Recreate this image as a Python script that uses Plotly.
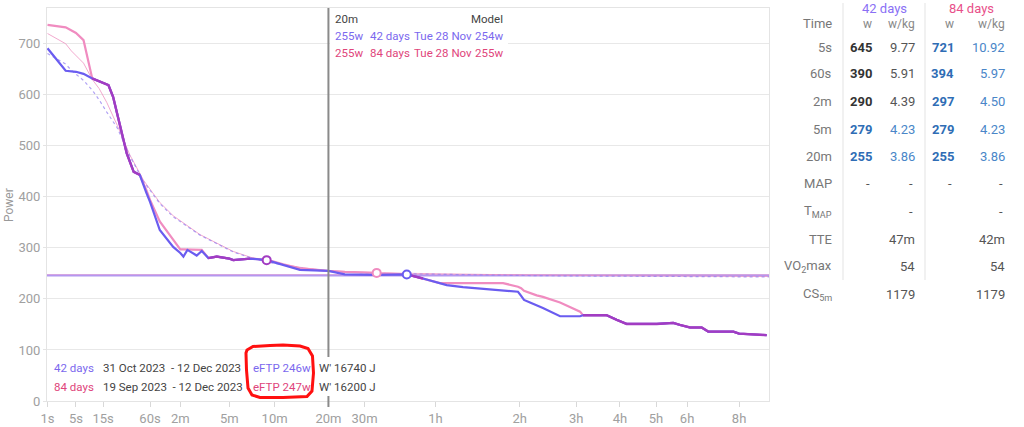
import plotly.graph_objects as go

# ---------------- data ----------------
secs = [1, 3, 5, 7, 10, 13, 18, 21, 32, 39, 46, 55, 60, 76, 103, 120, 128, 139, 167, 184,
        208, 242, 300, 320, 418, 536, 677, 845, 1200, 1450, 2050, 2120, 2760, 3215, 3750, 3980,
        4580, 6340, 7110, 7280, 7440, 7780, 8170, 8550, 9660, 11090, 11310, 11600, 13230, 14110,
        15030, 18080, 19940, 20740, 21970, 23470, 24350, 27930, 28800, 33290]
power_42d = [691, 647, 645, 641, 632, 627, 619, 596, 485, 449, 443, 407, 390, 335, 302, 290, 283, 296, 285, 294,
             280, 283, 279, 276, 279, 276, 266, 257, 255, 248, 247, 247, 248, 240, 230, 227,
             223, 217, 214, 206, 198, 193, 188, 182, 166, 166, 168, 168, 168, 159,
             151, 151, 153, 149, 144, 144, 136, 136, 132, 129]
power_84d = [737, 732, 721, 707, 632, 627, 619, 596, 485, 449, 443, 412, 394, 352, 315, 297, 297, 297, 297, 296,
             280, 283, 279, 276, 279, 277, 268, 260, 255, 253, 251, 250, 248, 240, 231, 231,
             231, 231, 224, 221, 216, 211, 207, 204, 193, 175, 168, 168, 168, 159,
             151, 151, 153, 149, 144, 144, 136, 136, 132, 129]

model_secs = [1, 3, 4, 7, 10, 13, 17, 24, 35, 51, 76, 103, 178, 242, 320, 418, 536, 845, 1200, 2120,
              3600, 7200, 10800, 18000, 28800, 33690]
model_42d = [681, 660, 648, 628, 609, 590, 566, 535, 480, 430, 387, 361, 325, 308, 292, 281, 272, 261, 254, 250,
             248, 246, 245, 244, 243, 243]
model_84d = [720, 700, 686, 662, 630, 612, 585, 540, 482, 432, 389, 363, 326, 309, 293, 282, 273, 262, 255, 251,
             249, 247, 246, 245, 244, 244]

eftp_42d = 246
eftp_84d = 247

marker_secs = [536, 2045, 2760]
marker_power = [276, 251, 248]

tick_secs = [1, 5, 15, 60, 120, 300, 600, 1200, 1800, 3600, 7200, 10800, 14400, 18000, 21600, 28800]
tick_text = ["1s", "5s", "15s", "60s", "2m", "5m", "10m", "20m", "30m", "1h", "2h", "3h", "4h", "5h", "6h", "8h"]
y_ticks = [0, 100, 200, 300, 400, 500, 600, 700]

table_rows = ["5s", "60s", "2m", "5m", "20m"]
w_42 = ["645", "390", "290", "279", "255"]
wkg_42 = ["9.77", "5.91", "4.39", "4.23", "3.86"]
w_84 = ["721", "394", "297", "279", "255"]
wkg_84 = ["10.92", "5.97", "4.50", "4.23", "3.86"]
best_42 = [False, False, False, True, True]
best_84 = [True, True, True, True, True]

# ---------------- helpers ----------------
def tx(s):
    return s ** 0.25

L, R, T, B = 47, 769, 8, 401
W, H = R - L, B - T

def px(xp):
    return (xp - L) / W

def py(yp):
    return (B - yp) / H

FONT = "Roboto"
C_BLUE = "#6a5cf0"
C_PINK = "#f08cc0"
C_MIX = "#a23cc2"
C_BLUE_TXT = "#7b68ee"
C_PINK_TXT = "#e0457b"

fig = go.Figure()

# eFTP lines
x_full = [tx(0.9), tx(34000)]
fig.add_trace(go.Scatter(x=x_full, y=[eftp_84d, eftp_84d], mode="lines",
                         line=dict(color="#f5b3d2", width=2), hoverinfo="skip"))
fig.add_trace(go.Scatter(x=x_full, y=[eftp_42d, eftp_42d], mode="lines",
                         line=dict(color="#b497f0", width=2), hoverinfo="skip"))

# model lines
fig.add_trace(go.Scatter(x=[tx(s) for s in model_secs], y=model_84d, mode="lines",
                         line=dict(color="rgba(238,140,190,0.75)", width=1), hoverinfo="skip"))
fig.add_trace(go.Scatter(x=[tx(s) for s in model_secs], y=model_42d, mode="lines",
                         line=dict(color="rgba(150,130,240,0.75)", width=1.2, dash="dot"), hoverinfo="skip"))

# actual curves
xs = [tx(s) for s in secs]
fig.add_trace(go.Scatter(x=xs, y=power_84d, mode="lines",
                         line=dict(color=C_PINK, width=2.2), hoverinfo="skip"))
fig.add_trace(go.Scatter(x=xs, y=power_42d, mode="lines",
                         line=dict(color=C_BLUE, width=2.2), hoverinfo="skip"))

# overlap segments (where both curves coincide)
ox, oy = [], []
for i in range(len(secs) - 1):
    if power_42d[i] == power_84d[i] and power_42d[i + 1] == power_84d[i + 1]:
        if ox and ox[-1] is not None and ox[-1] == xs[i]:
            ox.append(xs[i + 1]); oy.append(power_42d[i + 1])
        else:
            ox += [None, xs[i], xs[i + 1]]; oy += [None, power_42d[i], power_42d[i + 1]]
fig.add_trace(go.Scatter(x=ox, y=oy, mode="lines", connectgaps=False,
                         line=dict(color=C_MIX, width=2.4), hoverinfo="skip"))

# markers
fig.add_trace(go.Scatter(x=[tx(s) for s in marker_secs], y=marker_power, mode="markers",
                         marker=dict(symbol="circle", size=8, color="white",
                                     line=dict(width=2, color=[C_MIX, C_PINK, C_BLUE])),
                         hoverinfo="skip"))

shapes = []
# 20m vertical line
shapes.append(dict(type="line", xref="x", yref="paper", x0=tx(1200), x1=tx(1200), y0=-0.015, y1=1,
                   line=dict(color="#8a8a8a", width=2), layer="above"))
# white boxes behind legends
shapes.append(dict(type="rect", xref="paper", yref="paper", x0=px(330), x1=px(508), y0=py(62), y1=py(10),
                   fillcolor="white", line=dict(width=0), layer="above"))
shapes.append(dict(type="rect", xref="paper", yref="paper", x0=px(48), x1=px(380), y0=py(396), y1=py(357),
                   fillcolor="white", line=dict(width=0), layer="above"))
# red hand-drawn highlight
red_pts = [(247, 350), (253, 346.5), (270, 345.5), (283, 345), (300, 346), (308, 348.5), (312.5, 356),
           (313.5, 373), (312, 391), (307, 396.5), (283, 397.5), (260, 397.5), (252, 395), (248, 388),
           (246.5, 370), (246, 353), (247, 350)]
path = "M " + " L ".join(f"{px(a):.4f},{py(b):.4f}" for a, b in red_pts) + " Z"
shapes.append(dict(type="path", xref="paper", yref="paper", path=path,
                   line=dict(color="#ff1010", width=3), layer="above"))
# table separators
for sx in (843, 925):
    shapes.append(dict(type="line", xref="paper", yref="paper", x0=px(sx), x1=px(sx), y0=py(280), y1=py(3),
                       line=dict(color="#e3e3e3", width=1)))

ann = []
def A(text, x, y, color, size=12, anchor="left", bold=False):
    if bold:
        text = "<b>" + text + "</b>"
    ann.append(dict(text=text, x=px(x), y=py(y), xref="paper", yref="paper", xanchor=anchor,
                    yanchor="middle", showarrow=False, font=dict(family=FONT, size=size, color=color)))

# top legend
A("20m", 333, 19.5, "#444", size=11.5)
A("Model", 505, 19.5, "#444", size=11.5, anchor="right")
for yy, c, d, m in ((36.5, C_BLUE_TXT, "42 days", "254w"), (53.5, C_PINK_TXT, "84 days", "255w")):
    A("255w", 333, yy, c, size=11.5)
    A(d, 368, yy, c, size=11.5)
    A("Tue 28 Nov", 412, yy, c, size=11.5)
    A(m, 505, yy, c, size=11.5, anchor="right")

# bottom legend
for yy, c, d, rng, ef, wp in ((368, C_BLUE_TXT, "42 days", "31 Oct 2023  - 12 Dec 2023", "eFTP 246w", "W' 16740 J"),
                              (386.5, C_PINK_TXT, "84 days", "19 Sep 2023  - 12 Dec 2023", "eFTP 247w", "W' 16200 J")):
    A(d, 52, yy, c, size=11.5)
    A(rng, 101, yy, "#444", size=11.5)
    A(ef, 251, yy, c, size=11.5)
    A(wp, 317, yy, "#444", size=11.5)

# y axis title
ann.append(dict(text="Power", x=px(9), y=py(205), xref="paper", yref="paper", textangle=-90,
                showarrow=False, xanchor="center", yanchor="middle",
                font=dict(family=FONT, size=12, color="#999")))

# table
COL_LBL, COL_W42, COL_K42, COL_W84, COL_K84 = 834, 874, 917, 956, 1007
A("42 days", 884, 8.5, "#8a70f5", size=13, anchor="center")
A("84 days", 971, 8.5, "#e8508a", size=13, anchor="center")
A("Time", COL_LBL, 23.5, "#777", size=13, anchor="right")
A("w", COL_W42, 23.5, "#888", size=12, anchor="right")
A("w/kg", COL_K42, 23.5, "#888", size=12, anchor="right")
A("w", COL_W84, 23.5, "#888", size=12, anchor="right")
A("w/kg", COL_K84, 23.5, "#888", size=12, anchor="right")
row_y = [47.3, 74, 101.7, 129, 156.7]
for i, lbl in enumerate(table_rows):
    yy = row_y[i]
    A(lbl, COL_LBL, yy, "#777", size=13, anchor="right")
    A(w_42[i], COL_W42, yy, "#2f6db5" if best_42[i] else "#333", size=13, anchor="right", bold=True)
    A(wkg_42[i], COL_K42, yy, "#4a86c8" if best_42[i] else "#555", size=13, anchor="right")
    A(w_84[i], COL_W84, yy, "#2f6db5" if best_84[i] else "#333", size=13, anchor="right", bold=True)
    A(wkg_84[i], COL_K84, yy, "#4a86c8" if best_84[i] else "#555", size=13, anchor="right")
A("MAP", COL_LBL, 183.3, "#777", size=13, anchor="right")
for cx in (COL_W42 - 2, COL_K42 - 2, COL_W84 - 2, COL_K84 - 2):
    A("-", cx, 183.3, "#555", size=13, anchor="right")
A("T<sub>MAP</sub>", COL_LBL, 211.7, "#777", size=13, anchor="right")
for cx in (COL_K42 - 2, COL_K84 - 2):
    A("-", cx, 211.7, "#555", size=13, anchor="right")
A("TTE", COL_LBL, 239.3, "#777", size=13, anchor="right")
A("47m", COL_K42, 239.3, "#555", size=13, anchor="right")
A("42m", COL_K84, 239.3, "#555", size=13, anchor="right")
A("VO<sub>2</sub>max", COL_LBL, 266.7, "#777", size=13, anchor="right")
A("54", COL_K42, 266.7, "#555", size=13, anchor="right")
A("54", COL_K84, 266.7, "#555", size=13, anchor="right")
A("CS<sub>5m</sub>", COL_LBL, 294, "#777", size=13, anchor="right")
A("1179", COL_K42, 294, "#555", size=13, anchor="right")
A("1179", COL_K84, 294, "#555", size=13, anchor="right")

x_lo = 1 - 0.5 / 57.5
x_hi = 1 + (R - 47.5) / 57.5

fig.update_layout(
    width=1024, height=427,
    margin=dict(l=L, r=1024 - R, t=T, b=427 - B, pad=0, autoexpand=False),
    paper_bgcolor="white", plot_bgcolor="white",
    showlegend=False, hovermode=False,
    font=dict(family=FONT, size=12, color="#999"),
    xaxis=dict(range=[x_lo, x_hi], tickvals=[tx(s) for s in tick_secs], ticktext=tick_text,
               automargin=False,
               showgrid=False, zeroline=False, showline=True, mirror=True, linecolor="#e4e4e4", linewidth=1,
               ticks="outside", ticklen=5, tickcolor="#d8d8d8",
               tickfont=dict(family=FONT, size=13, color="#a0a0a0")),
    yaxis=dict(range=[0, H / 0.5104], tickvals=y_ticks, showgrid=True, gridcolor="#e8e8e8",
               automargin=False,
               zeroline=False, showline=True, mirror=True, linecolor="#e4e4e4", linewidth=1,
               ticks="outside", ticklen=3, tickcolor="#e4e4e4",
               tickfont=dict(family=FONT, size=13, color="#a0a0a0")),
    shapes=shapes, annotations=ann,
)

fig.write_html("out.html", config={"displayModeBar": False})
